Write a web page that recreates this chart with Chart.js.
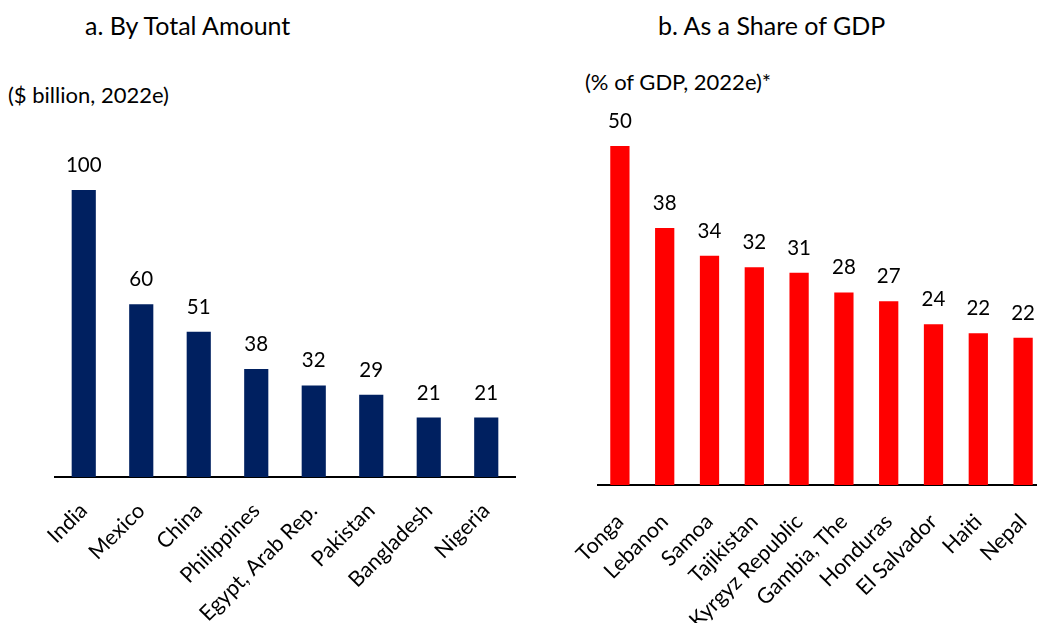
<!DOCTYPE html>
<html><head><meta charset="utf-8">
<script src="https://cdn.jsdelivr.net/npm/chart.js@4/dist/chart.umd.min.js"></script>
<style>
html,body{margin:0;padding:0;background:#fff;overflow:hidden;width:1037px;height:623px}
body{position:relative;font-family:Lato,sans-serif;color:#000}
.t{position:absolute;line-height:1;white-space:nowrap}
.h{font-size:25px}
.s{font-size:22px}
canvas{position:absolute;top:0}
#ca{left:0}
#cb{left:540px}
</style></head><body>
<div class="t h" style="left:85px;top:13px">a. By Total Amount</div>
<div class="t h" style="left:658px;top:13px">b. As a Share of GDP</div>
<div class="t s" style="left:8px;top:84px">($ billion, 2022e)</div>
<div class="t s" style="left:585px;top:71px">(% of GDP, 2022e)*</div>
<canvas id="ca" width="530" height="623"></canvas>
<canvas id="cb" width="510" height="623"></canvas>
<script>
// Panel a: by total amount ($ billion, 2022e)
const amountCountries = ['India','Mexico','China','Philippines','Egypt, Arab Rep.','Pakistan','Bangladesh','Nigeria'];
const amountValues = [100, 60.2, 50.6, 37.6, 31.9, 28.7, 20.7, 20.7];
// Panel b: as a share of GDP (% of GDP, 2022e)
const shareCountries = ['Tonga','Lebanon','Samoa','Tajikistan','Kyrgyz Republic','Gambia, The','Honduras','El Salvador','Haiti','Nepal'];
const shareValues = [50, 37.9, 33.8, 32.1, 31.3, 28.4, 27.1, 23.7, 22.4, 21.7];

const FONT = 'Lato';
const valueLabels = {
  id: 'valueLabels',
  afterDatasetsDraw(chart) {
    const ctx = chart.ctx;
    const meta = chart.getDatasetMeta(0);
    ctx.save();
    ctx.font = '20.5px ' + FONT;
    ctx.fillStyle = '#000';
    ctx.textAlign = 'center';
    ctx.textBaseline = 'alphabetic';
    meta.data.forEach((bar, i) => {
      const v = chart.data.datasets[0].data[i];
      ctx.fillText(String(Math.round(v)), bar.x, bar.y - 18);
    });
    ctx.restore();
  }
};

function makeChart(id, labels, values, color, cfg) {
  return new Chart(document.getElementById(id), {
    type: 'bar',
    data: { labels: labels, datasets: [{ data: values, backgroundColor: color, borderWidth: 0,
      barPercentage: cfg.barPct, categoryPercentage: 1 }] },
    options: {
      responsive: false,
      animation: false,
      events: [],
      layout: { padding: cfg.padding },
      plugins: { legend: { display: false }, tooltip: { enabled: false }, title: { display: false } },
      scales: {
        x: {
          grid: { display: false, drawTicks: false },
          border: { display: true, color: '#000', width: 2 },
          ticks: { color: '#000', font: { family: FONT, size: 21.5 }, maxRotation: 45, minRotation: 45,
            autoSkip: false, padding: cfg.tickPad },
          afterFit(s) { s.height = cfg.xHeight; s.paddingLeft = 0; s.paddingRight = 0; }
        },
        y: { display: false, min: 0, max: cfg.yMax }
      }
    },
    plugins: [valueLabels]
  });
}

makeChart('ca', amountCountries, amountValues, '#002060',
  { padding: { top: 190, left: 55, right: 15, bottom: 0 }, xHeight: 146, yMax: 100, barPct: 0.42, tickPad: 21 });
makeChart('cb', shareCountries, shareValues, '#FF0000',
  { padding: { top: 146, left: 57.5, right: 4.5, bottom: 0 }, xHeight: 138, yMax: 50, barPct: 0.43, tickPad: 24 });
</script>
</body></html>
